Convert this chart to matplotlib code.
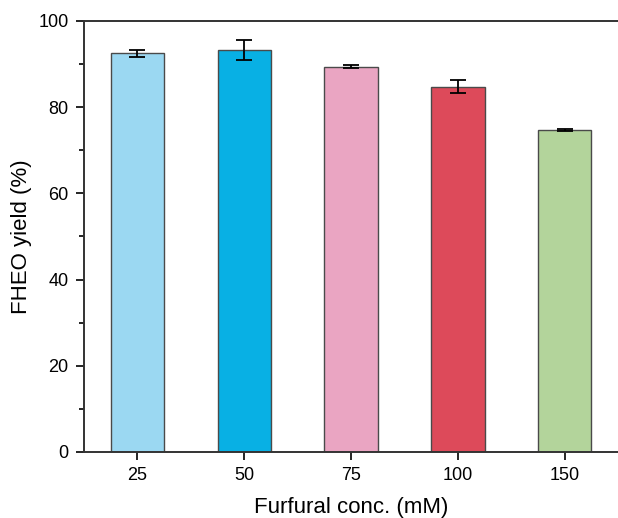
import numpy as np
import matplotlib.pyplot as plt
from matplotlib.ticker import MultipleLocator

plt.rcParams['font.family'] = ['Liberation Sans', 'DejaVu Sans']

conc = ['25', '50', '75', '100', '150']
yield_pct = [92.5, 93.3, 89.4, 84.8, 74.7]
yield_err = [0.8, 2.4, 0.3, 1.4, 0.2]
colors = ['#9BD8F2', '#08B0E4', '#EAA5C2', '#DD4A5A', '#B3D49B']

fig = plt.figure(figsize=(6.18, 5.18), dpi=100)
ax = fig.add_axes([84/618, 66/518, 1.0 - 84/618, 431/518])

x = np.arange(1, len(conc)+1)
ax.bar(x, yield_pct, width=0.5, color=colors, edgecolor='#4a4a4a', linewidth=1.0, zorder=2)
ax.errorbar(x, yield_pct, yerr=yield_err, fmt='none', ecolor='black',
            elinewidth=1.3, capsize=6, capthick=1.3, zorder=3)

ax.set_xlim(0.5, 5.5)
ax.set_ylim(0, 100)
ax.set_xticks(x)
ax.set_xticklabels(conc)
ax.yaxis.set_major_locator(MultipleLocator(20))
ax.yaxis.set_minor_locator(MultipleLocator(10))
ax.tick_params(axis='both', which='major', direction='out', length=6, width=1.2, labelsize=13, pad=5)
ax.tick_params(axis='y', which='minor', direction='out', length=3.5, width=1.2)
ax.tick_params(axis='x', which='minor', bottom=False)

for s in ['left', 'bottom', 'top']:
    ax.spines[s].set_linewidth(1.4)
    ax.spines[s].set_color('#333333')
ax.spines['right'].set_visible(False)

ax.set_xlabel('Furfural conc. (mM)', fontsize=16, labelpad=9)
ax.set_ylabel('FHEO yield (%)', fontsize=16, labelpad=5)

fig.savefig('out.png', dpi=100)
